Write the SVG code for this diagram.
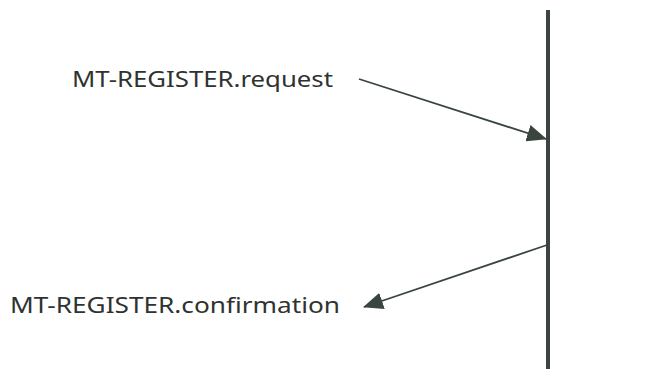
<svg xmlns="http://www.w3.org/2000/svg" width="650" height="369" viewBox="0 0 650 369">
<style>
.lbl{font-family:"Noto Sans","Open Sans",sans-serif;font-size:22px;fill:#2e3330}
.conn{stroke:#3a4540;stroke-width:1.8;fill:none}
</style>
<defs>
<marker id="ah2" markerWidth="20" markerHeight="17" refX="19" refY="8.5" orient="auto" markerUnits="userSpaceOnUse" viewBox="0 0 20 17">
<path d="M0,0 L20,8.5 L0,17 Z" fill="#3a4540"/>
</marker>
</defs>
<rect width="650" height="369" fill="#fff"/>
<g id="lifeline">
<line x1="548" y1="10" x2="548" y2="369" stroke="#3a4540" stroke-width="4"/>
</g>
<g id="label-request">
<text class="lbl" x="72" y="87" textLength="261" lengthAdjust="spacingAndGlyphs">MT-REGISTER.request</text>
</g>
<g id="label-confirmation">
<text class="lbl" x="10" y="313" textLength="330" lengthAdjust="spacingAndGlyphs">MT-REGISTER.confirmation</text>
</g>
<g id="connectors">
<line class="conn" x1="359" y1="79" x2="546" y2="139" marker-end="url(#ah2)"/>
<line class="conn" x1="547" y1="245" x2="364" y2="307" marker-end="url(#ah2)"/>
</g>
</svg>
